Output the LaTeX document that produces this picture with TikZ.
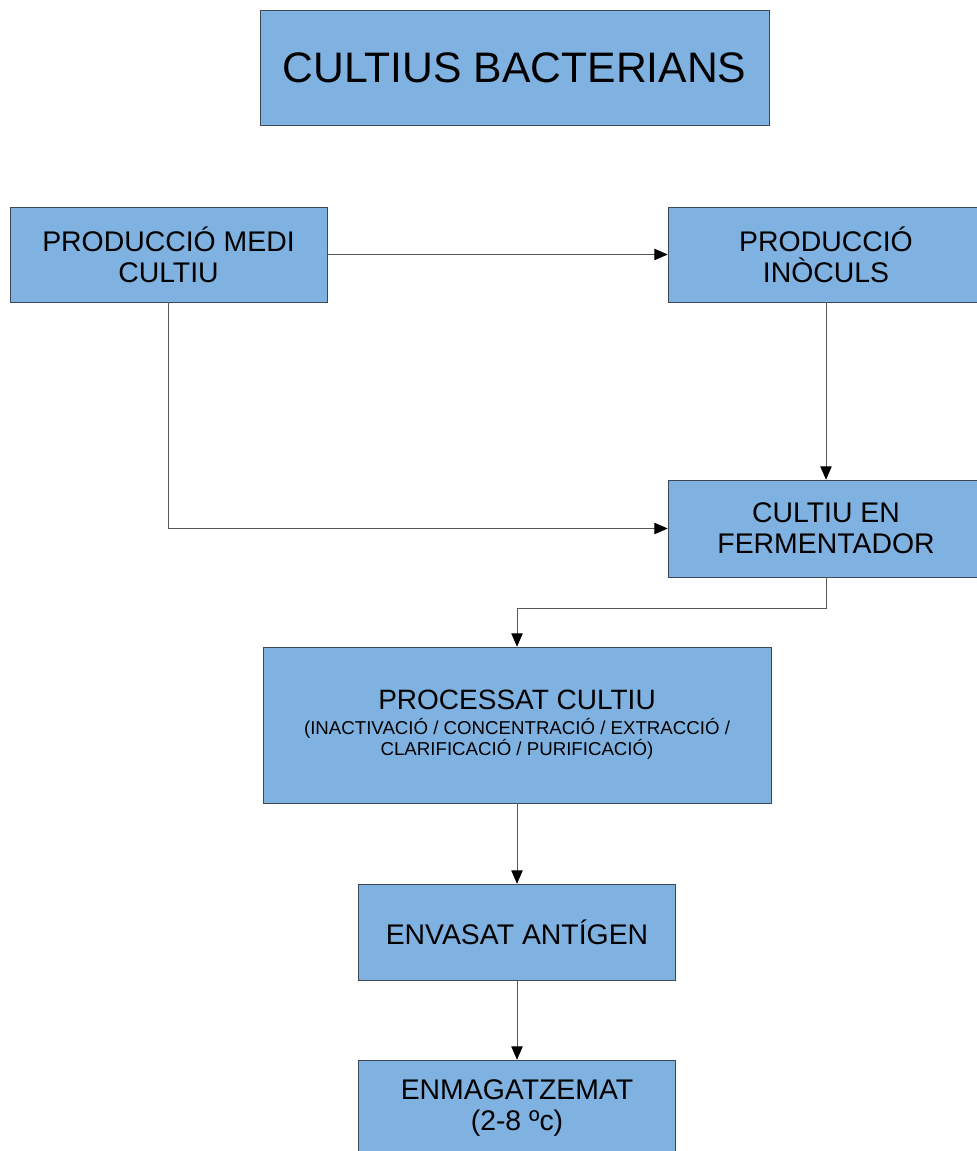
\documentclass[tikz,border=0pt]{standalone}
\usepackage{fontspec}
\setmainfont{Liberation Sans}
\usetikzlibrary{arrows.meta}
\definecolor{caixablava}{RGB}{127,178,225}
\definecolor{vora}{RGB}{60,72,88}
\begin{document}
\begin{tikzpicture}[x=0.75pt,y=-0.75pt,
caixa/.style={draw=vora,fill=caixablava,align=center,inner sep=0pt,font=\fontsize{21.3}{23.25}\selectfont},
fletxa/.style={draw=black!65,line width=0.6pt,-{Triangle[length=10pt,width=8.5pt,color=black]}}]

\useasboundingbox (0,0) rectangle (976,1151);

\node[caixa,minimum width=381.75pt,minimum height=86.25pt,font=\fontsize{32}{38}\selectfont] (titol) at (514.5,67.5) {CULTIUS BACTERIANS};

\node[caixa,minimum width=237.75pt,minimum height=71.25pt] (medi) at (168.5,254.5) {PRODUCCIÓ MEDI\\CULTIU};
\node[caixa,minimum width=237pt,minimum height=71.25pt] (inocul) at (826,254.5) {PRODUCCIÓ\\INÒCULS};
\node[caixa,minimum width=237pt,minimum height=72.75pt] (ferment) at (826,528.5) {CULTIU EN\\FERMENTADOR};
\node[caixa,minimum width=381pt,minimum height=117pt,font=\fontsize{21}{15.75}\selectfont] (proces) at (517,725) {PROCESSAT CULTIU\\[3pt]\fontsize{14}{15.75}\selectfont (INACTIVACIÓ / CONCENTRACIÓ / EXTRACCIÓ /\\\fontsize{14}{15.75}\selectfont CLARIFICACIÓ / PURIFICACIÓ)};
\node[caixa,minimum width=237.75pt,minimum height=72pt] (envas) at (517,932) {ENVASAT ANTÍGEN};
\node[caixa,minimum width=237.75pt,minimum height=72pt] (emmag) at (517,1108) {ENMAGATZEMAT\\(2-8 ºc)};

\draw[fletxa] (medi) -- (inocul);
\draw[fletxa] (medi.south) |- (ferment.west);
\draw[fletxa] (inocul) -- (ferment);
\draw[fletxa] (ferment.south) -- ++(0,31) -| (proces.north);
\draw[fletxa] (proces) -- (envas);
\draw[fletxa] (envas) -- (emmag);

\end{tikzpicture}
\end{document}
